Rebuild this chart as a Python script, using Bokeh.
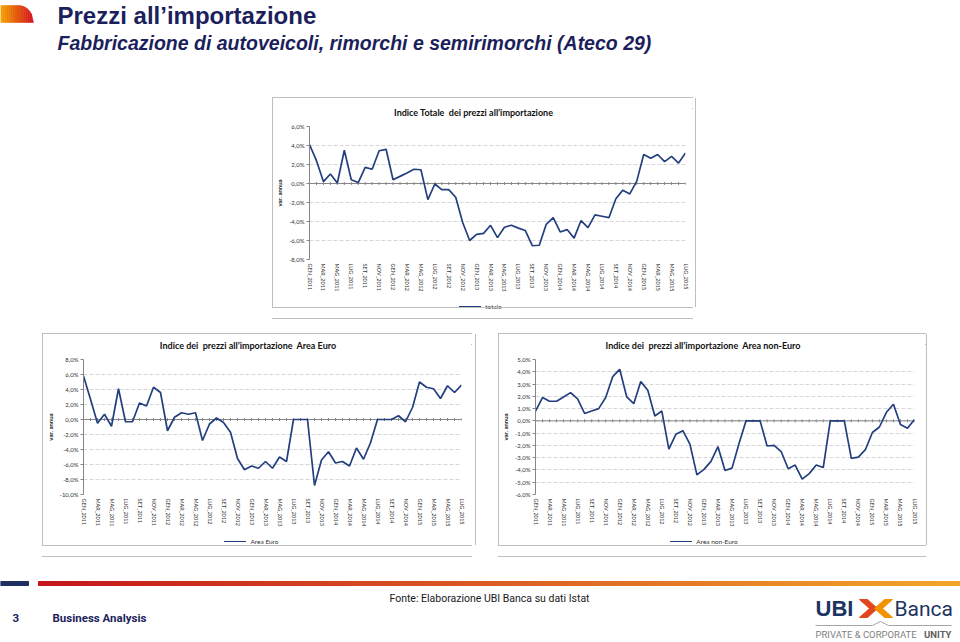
import math
from bokeh.plotting import figure
from bokeh.models import (ColumnDataSource, Range1d, FixedTicker, CustomJSTickFormatter,
                          Span, Spacer, Div)
from bokeh.layouts import column, row
from bokeh.embed import file_html
from bokeh.resources import INLINE
from bokeh.core.properties import value

# ---------------- data ----------------
periods = [
    "GEN_2011", "FEB_2011", "MAR_2011", "APR_2011", "MAG_2011", "GIU_2011",
    "LUG_2011", "AGO_2011", "SET_2011", "OTT_2011", "NOV_2011", "DIC_2011",
    "GEN_2012", "FEB_2012", "MAR_2012", "APR_2012", "MAG_2012", "GIU_2012",
    "LUG_2012", "AGO_2012", "SET_2012", "OTT_2012", "NOV_2012", "DIC_2012",
    "GEN_2013", "FEB_2013", "MAR_2013", "APR_2013", "MAG_2013", "GIU_2013",
    "LUG_2013", "AGO_2013", "SET_2013", "OTT_2013", "NOV_2013", "DIC_2013",
    "GEN_2014", "FEB_2014", "MAR_2014", "APR_2014", "MAG_2014", "GIU_2014",
    "LUG_2014", "AGO_2014", "SET_2014", "OTT_2014", "NOV_2014", "DIC_2014",
    "GEN_2015", "FEB_2015", "MAR_2015", "APR_2015", "MAG_2015", "GIU_2015",
    "LUG_2015",
]

totale = [4.1, 2.4, 0.2, 1.0, 0.05, 3.5, 0.4, 0.1, 1.7, 1.5, 3.45, 3.6,
          0.4, 0.75, 1.1, 1.5, 1.45, -1.7, -0.05, -0.65, -0.65, -1.45, -4.1, -6.0,
          -5.35, -5.25, -4.4, -5.7, -4.6, -4.4, -4.7, -4.95, -6.55, -6.5, -4.3, -3.6,
          -5.1, -4.85, -5.75, -3.9, -4.65, -3.3, -3.45, -3.6, -1.6, -0.7, -1.1, 0.25,
          3.05, 2.65, 3.05, 2.3, 2.85, 2.15, 3.2]

area_euro = [5.8, 2.7, -0.5, 0.7, -0.9, 4.1, -0.3, -0.3, 2.2, 1.8, 4.3, 3.6,
             -1.5, 0.3, 0.9, 0.7, 0.9, -2.8, -0.6, 0.2, -0.4, -1.7, -5.2, -6.7,
             -6.2, -6.5, -5.6, -6.5, -5.0, -5.6, 0.0, 0.0, 0.0, -8.8, -5.4, -4.3,
             -5.8, -5.6, -6.2, -3.8, -5.3, -3.1, 0.0, 0.0, 0.0, 0.5, -0.3, 1.6,
             5.0, 4.3, 4.1, 2.8, 4.5, 3.6, 4.6]

area_non_euro = [0.8, 1.9, 1.6, 1.6, 1.95, 2.3, 1.8, 0.6, 0.8, 1.0, 1.9, 3.6,
                 4.2, 1.95, 1.4, 3.2, 2.5, 0.4, 0.8, -2.3, -1.1, -0.8, -1.9, -4.4,
                 -3.95, -3.3, -2.1, -4.05, -3.85, -1.85, 0.0, 0.0, 0.0, -2.05, -2.0, -2.5,
                 -3.9, -3.6, -4.75, -4.3, -3.6, -3.8, 0.0, 0.0, 0.0, -3.05, -2.95, -2.35,
                 -0.95, -0.5, 0.7, 1.35, -0.3, -0.6, 0.1]

yticks_totale = [-8, -6, -4, -2, 0, 2, 4, 6]
yticks_euro = [-10, -8, -6, -4, -2, 0, 2, 4, 6, 8]
yticks_non_euro = [-6, -5, -4, -3, -2, -1, 0, 1, 2, 3, 4, 5]

title_totale = "Indice Totale  dei prezzi all\u2019importazione"
title_euro = "Indice dei  prezzi all\u2019importazione  Area Euro"
title_non_euro = "Indice dei  prezzi all\u2019importazione  Area non-Euro"

# ---------------- styles ----------------
CHART_FONT = "Lato"
SLIDE_FONT = "Liberation Sans"
SMALL_FONT = "Roboto"
LINE_COLOR = "#243f7e"
AXIS_COLOR = "#868686"
BOX_COLOR = "#bfbfbf"
NAVY = "#1c1f5c"

xtick_positions = list(range(0, len(periods), 2))


def gray_bar(w, h):
    return Div(width=w, height=h, margin=0,
               text=f'<div style="width:{w}px;height:{h}px;background:{BOX_COLOR}"></div>',
               styles={"background-color": BOX_COLOR})


def chart_box(values, title, legend_label, yticks, box_w, box_h, bl, br,
              frame_w, frame_h, title_h, title_pad, legend_h, legend_shift,
              legend_lift, bt=6, bb=36):
    inner_w = box_w - 2
    idx = list(range(len(periods)))
    src = ColumnDataSource(dict(idx=idx, val=values))
    p = figure(frame_width=frame_w, frame_height=frame_h,
               output_backend="svg", toolbar_location=None,
               x_range=Range1d(0, len(periods) - 1),
               y_range=Range1d(yticks[0], yticks[-1]),
               min_border_left=bl, min_border_right=br,
               min_border_top=bt, min_border_bottom=bb)
    p.outline_line_color = None
    p.background_fill_color = "white"
    p.border_fill_color = "white"

    yt = FixedTicker(ticks=yticks)
    p.yaxis.ticker = yt
    p.yaxis.formatter = CustomJSTickFormatter(
        code="return tick.toFixed(1).replace('.', ',') + '%';")
    p.yaxis.axis_line_color = AXIS_COLOR
    p.yaxis.major_tick_line_color = AXIS_COLOR
    p.yaxis.major_tick_out = 3
    p.yaxis.major_tick_in = 0
    p.yaxis.minor_tick_out = 0
    p.yaxis.minor_tick_in = 0
    p.yaxis.minor_tick_line_color = None
    p.yaxis.major_label_text_font = CHART_FONT
    p.yaxis.major_label_text_font_size = "6px"
    p.yaxis.major_label_text_color = "#333333"
    p.yaxis.major_label_standoff = 2
    p.yaxis.axis_label = "var. annua"
    p.yaxis.axis_label_text_font = CHART_FONT
    p.yaxis.axis_label_text_font_size = "6px"
    p.yaxis.axis_label_text_font_style = "bold"
    p.yaxis.axis_label_text_color = "#222222"
    p.yaxis.axis_label_standoff = 3

    p.xaxis.ticker = FixedTicker(ticks=xtick_positions)
    p.xaxis.major_label_overrides = {i: periods[i] for i in xtick_positions}
    p.xaxis.major_label_orientation = "vertical"
    p.xaxis.axis_line_color = None
    p.xaxis.major_tick_line_color = None
    p.xaxis.minor_tick_line_color = None
    p.xaxis.major_tick_out = 0
    p.xaxis.major_tick_in = 0
    p.xaxis.minor_tick_out = 0
    p.xaxis.minor_tick_in = 0
    p.xaxis.major_label_text_font = CHART_FONT
    p.xaxis.major_label_text_font_size = "5.5px"
    p.xaxis.major_label_text_color = "#333333"
    p.xaxis.major_label_standoff = 4

    p.xgrid.visible = False
    p.ygrid.ticker = yt
    p.ygrid.grid_line_color = "#d6d6d6"
    p.ygrid.grid_line_dash = "4 2"

    p.add_layout(Span(location=0, dimension="width", line_color=AXIS_COLOR,
                      line_width=1, level="underlay"))
    p.scatter(x="idx", y=0, source=src, marker="dash", angle=math.pi / 2,
              size=3, line_color=AXIS_COLOR)
    p.line("idx", "val", source=src, line_color=LINE_COLOR, line_width=1.7)

    title_div = Div(width=inner_w, height=title_h, margin=0, text=(
        f'<div style="width:{inner_w}px;height:{title_h}px;box-sizing:border-box;'
        f'padding-top:{title_pad}px;padding-right:18px;text-align:center;'
        f'font-family:{CHART_FONT};font-weight:bold;font-size:9px;line-height:11px;'
        f'color:#111111;white-space:pre;background:white">{title}</div>'))
    legend_div = Div(width=inner_w, height=legend_h, margin=0, text=(
        f'<div style="width:{inner_w}px;height:{legend_h}px;box-sizing:border-box;'
        f'display:flex;align-items:center;justify-content:center;'
        f'padding-right:{legend_shift}px;padding-bottom:{legend_lift}px;'
        f'font-family:{CHART_FONT};font-size:6.5px;line-height:8px;'
        f'color:#333333;background:white">'
        f'<span style="display:inline-block;width:22px;height:0;'
        f'border-top:1.6px solid {LINE_COLOR};margin-right:4px"></span>'
        f'<span>{legend_label}</span></div>'))

    inner_h = box_h - 2
    return column(
        gray_bar(box_w, 1),
        row(gray_bar(1, inner_h), column(title_div, p, legend_div), gray_bar(1, inner_h)),
        gray_bar(box_w, 1),
    )


chart1 = chart_box(totale, title_totale, "totale", yticks_totale,
                   421, 211, 33, 10, 376, 133, 22, 9, 12, 4, 6)
chart2 = chart_box(area_euro, title_euro, "Area Euro", yticks_euro,
                   430, 213, 36, 14, 378, 135, 19, 6, 15, 11, 8)
chart3 = chart_box(area_non_euro, title_non_euro, "Area non-Euro", yticks_non_euro,
                   428, 213, 35, 12, 379, 135, 19, 6, 15, 16, 8)


def hex2rgb(c):
    c = c.lstrip("#")
    return tuple(int(c[i:i + 2], 16) for i in (0, 2, 4))


def lerp(c1, c2, t):
    a, b = hex2rgb(c1), hex2rgb(c2)
    return "#%02x%02x%02x" % tuple(int(round(a[i] + (b[i] - a[i]) * t)) for i in range(3))


def deco_fig(h, y0, y1):
    f = figure(width=960, height=h, output_backend="svg", toolbar_location=None,
               x_range=Range1d(0, 960), y_range=Range1d(y1, y0),
               x_axis_location=None, y_axis_location=None, min_border=0)
    f.grid.visible = False
    f.outline_line_color = None
    f.background_fill_color = None
    f.border_fill_color = None
    return f


# ---------------- header ----------------
header = deco_fig(97, 0, 97)
n = 16
xs, ys, cols = [], [], []
tab_l, tab_r, tab_t, tab_b, tab_c = 0.0, 33.0, 5.0, 22.0, 18.0


def tab_top(x):
    if x <= tab_c:
        return tab_t
    u = min(1.0, (x - tab_c) / (tab_r - tab_c))
    return tab_b - (tab_b - tab_t) * math.sqrt(max(0.0, 1 - u * u))


for k in range(n):
    xa = tab_l + (tab_r - tab_l) * k / n
    xb = tab_l + (tab_r - tab_l) * (k + 1) / n
    xs.append([xa, xb, xb, xa])
    ys.append([tab_top(xa), tab_top(xb), tab_b, tab_b])
    cols.append(lerp("#f5a000", "#d2141d", k / (n - 1)))
header.patches(xs, ys, fill_color=cols, line_color=cols, line_width=0.5)

header.text(x=[57], y=[15], text=["Prezzi all\u2019importazione"],
            text_font=value(SLIDE_FONT), text_font_size="24px", text_font_style="bold",
            text_color=NAVY, text_baseline="middle", text_align="left")
header.text(x=[57], y=[42], text=["Fabbricazione di autoveicoli, rimorchi e semirimorchi (Ateco 29)"],
            text_font=value(SLIDE_FONT), text_font_size="19.5px", text_font_style="bold italic",
            text_color=NAVY, text_baseline="middle", text_align="left")

# ---------------- footer ----------------
footer = deco_fig(96, 546, 642)
footer.quad(left=[0], right=[28], top=[581], bottom=[585], color="#1f3060")
m = 80
gl = [38 + (960 - 38) * k / m for k in range(m)]
gr = [38 + (960 - 38) * (k + 1) / m + 0.5 for k in range(m)]
gc = [lerp("#c4161c", "#f2a52a", k / (m - 1)) for k in range(m)]
footer.quad(left=gl, right=gr, top=[581] * m, bottom=[585] * m, color=gc)

footer.text(x=[489], y=[598], text=["Fonte: Elaborazione UBI Banca su dati Istat"],
            text_font=value(SMALL_FONT), text_font_size="10.5px", text_color="#1a1a1a",
            text_align="center", text_baseline="middle")
footer.text(x=[12], y=[617], text=["3"], text_font=value(SMALL_FONT), text_font_size="11.5px",
            text_font_style="bold", text_color=NAVY, text_baseline="middle")
footer.text(x=[52], y=[617], text=["Business Analysis"], text_font=value(SMALL_FONT),
            text_font_size="11.5px", text_font_style="bold", text_color=NAVY,
            text_baseline="middle")

# logo
footer.text(x=[815], y=[608], text=["UBI"], text_font=value("Liberation Sans"),
            text_font_size="22px", text_font_style="bold", text_color="#1d3461",
            text_baseline="middle")
footer.text(x=[894], y=[608], text=["Banca"], text_font=value(SMALL_FONT),
            text_font_size="21px", text_color="#1d3461", text_baseline="middle")
footer.patch([859, 867, 877, 867, 859, 869], [599, 599, 608, 617, 617, 608], color="#e0471c")
footer.patch([892, 884, 874, 884, 892, 882], [599, 599, 608, 617, 617, 608], color="#f39200")
footer.line([815, 872, 880, 888, 951], [625, 625, 621, 625, 625], line_color="#a6a6a6", line_width=1)
footer.text(x=[815], y=[634], text=["PRIVATE & CORPORATE"], text_font=value(SMALL_FONT),
            text_font_size="9.5px", text_color="#7f7f7f", text_baseline="middle")
footer.text(x=[951], y=[634], text=["UNITY"], text_font=value(SMALL_FONT),
            text_font_size="9.5px", text_font_style="bold", text_color="#5f5f5f",
            text_align="right", text_baseline="middle")

root = column(
    header,
    row(Spacer(width=272, height=211), chart1, Spacer(width=267, height=211)),
    Spacer(width=960, height=25),
    row(Spacer(width=42, height=213), chart2, Spacer(width=22, height=213), chart3,
        Spacer(width=38, height=213)),
    footer,
)

open("out.html", "w").write(file_html(root, INLINE))
